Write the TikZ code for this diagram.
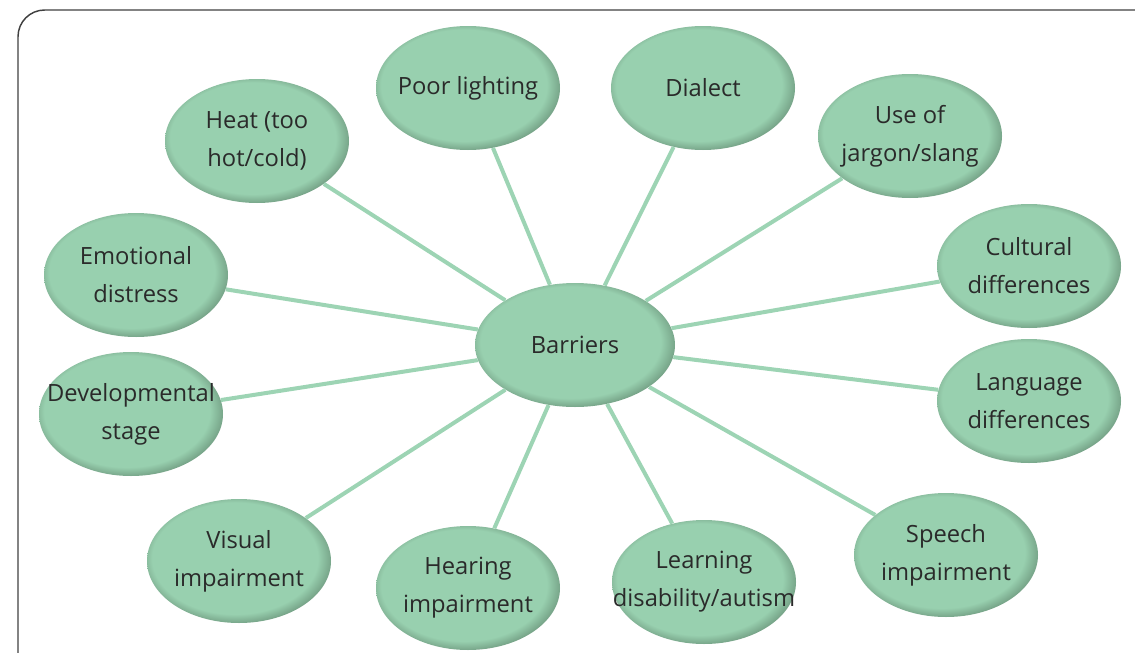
\documentclass[tikz,border=0pt]{standalone}
\usepackage{fontspec}
\setmainfont{Open Sans}
\usetikzlibrary{shapes.geometric}
\definecolor{ovalfill}{HTML}{98D0AF}
\definecolor{ovallight}{HTML}{A6D8BA}
\definecolor{ovalrim}{HTML}{739F84}
\definecolor{spokecol}{HTML}{9DD4B4}
\definecolor{textcol}{HTML}{2A2A2A}
\pgfdeclareradialshading{ovalshade}{\pgfpoint{-2bp}{2bp}}{color(0bp)=(ovalfill); color(22.5bp)=(ovalfill); color(26.5bp)=(ovalrim); color(50bp)=(ovalrim)}
\tikzset{
  oval/.style={ellipse, shading=ovalshade, minimum width=138pt, minimum height=93pt,
    inner xsep=-30pt, inner ysep=0pt, align=center, text=textcol,
    font=\fontsize{17.8}{28.5}\selectfont},
  spoke/.style={draw=spokecol, line width=3pt}
}
\begin{document}
\begin{tikzpicture}[x=0.75pt,y=-0.75pt]
    \useasboundingbox (0,0) rectangle (1135,653);
    \draw[rounded corners=20, draw=black!75, line width=1.1pt] (18,680) -- (18,10) -- (1160,10);
    \node[oval, minimum width=150pt] (barriers) at (575,345) {Barriers};
    %  1 poor lighting, 2 dialect, 3 jargon, 4 cultural, 5 language, 6 speech,
    %  7 learning, 8 hearing, 9 visual, 10 developmental, 11 emotional, 12 heat
    \foreach \x/\y/\txt [count=\i from 1] in {468/88/{Poor lighting}, 703/88/{Dialect},
        910/136/{Use of\\jargon/slang}, 1029/266/{Cultural\\differences},
        1029/401/{Language\\differences}, 946/555/{Speech\\impairment},
        704/582/{Learning\\disability/autism}, 468/588/{Hearing\\impairment},
        239/561/{Visual\\impairment}, 131/414/{Developmental\\stage},
        136/275/{Emotional\\distress}, 257/141/{Heat (too\\hot/cold)}}
      {\node[oval] (b\i) at (\x,\y) {\txt};}
    \foreach \i in {1,...,12} {\draw[spoke] (barriers) -- (b\i);}
  \end{tikzpicture}
\end{document}
